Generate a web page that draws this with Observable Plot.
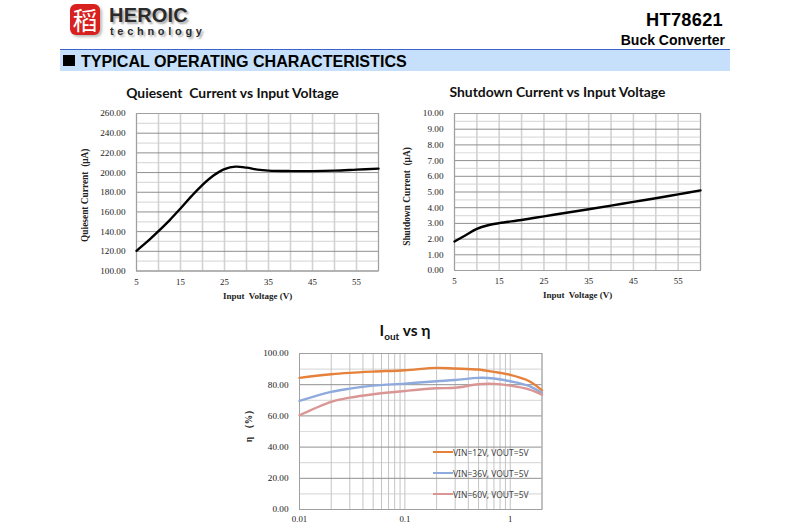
<!DOCTYPE html>
<html><head><meta charset="utf-8">
<script src="https://cdn.jsdelivr.net/npm/d3@7"></script>
<script src="https://cdn.jsdelivr.net/npm/@observablehq/plot@0.6"></script>
<style>
html,body{margin:0;padding:0;width:787px;height:531px;overflow:hidden;background:#fff}
.abs{position:absolute;white-space:nowrap}
.sans{font-family:"Liberation Sans",Arial,sans-serif;font-weight:700;color:#000}
.ttl{font-family:"Lato","Open Sans",sans-serif;font-weight:700;color:#111;text-align:center}
.leg{font-family:"Noto Sans",sans-serif;font-size:8.5px;color:#444}
.legl{height:2.4px}
svg{background:transparent;overflow:hidden}
</style></head><body>
<script>
// Quiescent current
const qV=[5,7.5,10,12.5,15,17.5,20,22.5,25,27.5,30,32.5,35,40,45,50,55,60];
const qI=[120.5,130,140.5,151.5,163.5,176,187.5,197,203.5,206,205,203,202,201.5,201.5,202,203,204];
// Shutdown current
const sV=[5,7.5,10,12.5,15,20,25,30,35,40,45,50,55,60];
const sI=[1.85,2.25,2.65,2.88,3.02,3.22,3.45,3.68,3.9,4.13,4.37,4.6,4.85,5.1];
// Efficiency
const iout=[0.01,0.02,0.03,0.05,0.1,0.2,0.3,0.5,0.7,1,1.5,2];
const eff12=[84.4,86.7,87.6,88.4,89.3,90.8,90.4,89.7,88.2,86.3,82.4,76.4];
const eff36=[69.6,75.4,77.5,79.4,80.7,82.2,83,84.4,84,82.2,79.2,74.7];
const eff60=[60.4,69,71.7,73.9,76,77.7,78,80.3,80.5,79.4,77,73.6];
const series=["VIN=12V, VOUT=5V","VIN=36V, VOUT=5V","VIN=60V, VOUT=5V"];
const colors=["#E5813A","#8FAADC","#D99694"];
// Ticks
const xGrid=[5,10,15,20,25,30,35,40,45,50,55,60];
const xLab=[5,15,25,35,45,55];
const qMajor=[100,120,140,160,180,200,220,240,260];
const qMinor=[110,130,150,170,190,210,230,250];
const sMajor=[0,1,2,3,4,5,6,7,8,9,10];
const sMinor=[.5,1.5,2.5,3.5,4.5,5.5,6.5,7.5,8.5,9.5];
const eMajor=[0,20,40,60,80,100];
const eMinor=[10,30,50,70,90];
const logGrid=[0.01,0.02,0.03,0.04,0.05,0.06,0.07,0.08,0.09,0.1,0.2,0.3,0.4,0.5,0.6,0.7,0.8,0.9,1,2];
const logLab=[0.01,0.1,1];

const serif='"Liberation Serif","Times New Roman",serif';
function add(el,left,top){el.style.position="absolute";el.style.left=left+"px";el.style.top=top+"px";document.body.appendChild(el);return el}
function html(cls,style,h){const d=document.createElement("div");d.className="abs "+cls;d.style.cssText=style;d.innerHTML=h;document.body.appendChild(d);return d}

function chart(o){
  const ml=70,mt=8,mr=10,mb=o.mb;
  const marks=[
    Plot.ruleY(o.minor,{stroke:"#dcdcdc",strokeWidth:1.2}),
    Plot.ruleX(o.xGrid,{stroke:o.vc||"#d2d2d2",strokeWidth:o.vw||1.6}),
    Plot.ruleY(o.major,{stroke:"#8f8f8f",strokeWidth:1}),
    Plot.frame({stroke:"#a0a0a0",strokeWidth:1}),
    ...o.lines,
    Plot.axisX({ticks:o.xLab,tickSize:0,tickPadding:o.xPad,tickFormat:o.xFmt,fontSize:8.8,fill:"#222",label:null}),
    Plot.axisY({ticks:o.major,tickSize:0,tickPadding:11,tickFormat:d=>d.toFixed(2),fontSize:9.2,fill:"#222",label:null}),
    Plot.text([o.yLabel],{text:d=>d,frameAnchor:"left",textAnchor:"middle",rotate:-90,dx:o.yDx,dy:o.yDy,fontWeight:"bold",fontSize:o.yFs||9.4,fill:"#222"}),
    Plot.text([o.xLabel],{text:d=>d,frameAnchor:"bottom",dy:o.xDy,fontWeight:"bold",fontSize:9,fill:"#222",lineAnchor:"middle"})
  ];
  const p=Plot.plot({
    width:ml+o.w+mr,height:mt+o.h+mb,marginLeft:ml,marginTop:mt,marginRight:mr,marginBottom:mb,
    style:{fontFamily:serif,background:"transparent",overflow:"hidden"},
    x:{type:o.xType||"linear",domain:o.xDomain,label:null},
    y:{domain:o.yDomain,label:null},
    marks
  });
  add(p,o.left-ml,o.top-mt);
}

/* Header */
html("", "left:70px;top:4px;width:30px;height:31px;background:#d8201f;border-radius:6px;color:#fff;font:400 25px/31px 'Noto Sans CJK SC';text-align:center;box-shadow:2px 2px 3px #bbb","稻");
html("sans","left:109px;top:4px;font-size:20px;color:#2b2b2b;text-shadow:2px 2px 2px #aaa;letter-spacing:.2px","HEROIC");
html("sans","left:110px;top:25px;font-size:11px;color:#2b2b2b;letter-spacing:3.7px;text-shadow:2px 2px 2px #aaa","technology");
html("sans","right:64px;top:10px;font-size:18.2px;letter-spacing:.3px","HT78621");
html("sans","right:62px;top:32px;font-size:14px","Buck Converter");
html("","left:60px;top:49px;width:670px;height:22px;background:#c6e0fb;border-top:1px solid #3b64c8;box-sizing:border-box","");
html("","left:63px;top:55px;width:12px;height:10.5px;background:#000","");
html("sans","left:81px;top:52px;font-size:16.1px;line-height:19px","TYPICAL OPERATING CHARACTERISTICS");
/* Titles */
html("ttl","left:125px;width:215px;top:84px;font-size:13.9px;line-height:18px","Quiesent&nbsp; Current vs Input Voltage");
html("ttl","left:449px;width:217px;top:83px;font-size:13.9px;line-height:18px","Shutdown Current vs Input Voltage");
html("ttl","left:370px;width:70px;top:320px;font-size:15.5px;line-height:20px",'I<sub style="font-size:10px;line-height:0">out</sub> vs η');

const q=qV.map((x,i)=>({x,y:qI[i]}));
chart({left:136,top:112.5,w:242,h:157.5,mb:40,xDomain:[5,60],yDomain:[100,260],xGrid,xLab,major:qMajor,minor:qMinor,xPad:8,
  lines:[Plot.line(q,{x:"x",y:"y",stroke:"#000",strokeWidth:2.4,curve:"catmull-rom"})],
  yLabel:"Quiesent Current  (μA)",yDx:-52,yDy:3,xLabel:"Input  Voltage (V)",xDy:25});

const s=sV.map((x,i)=>({x,y:sI[i]}));
chart({left:454,top:112.5,w:246,h:157,mb:40,xDomain:[5,60],yDomain:[0,10],xGrid,xLab,major:sMajor,minor:sMinor,xPad:7,
  lines:[Plot.line(s,{x:"x",y:"y",stroke:"#000",strokeWidth:2.4,curve:"catmull-rom"})],
  yLabel:"Shutdown Current  (μA)",yDx:-48,yDy:4.5,xLabel:"Input  Voltage (V)",xDy:24.5});

const rows=series.flatMap((k,j)=>iout.map((x,i)=>({x,y:[eff12,eff36,eff60][j][i],k})));
chart({left:299,top:352.5,w:242.5,h:156,mb:30,xType:"log",xDomain:[0.01,2],yDomain:[0,100],xGrid:logGrid,xLab:logLab,vw:1,vc:"#c4c4c4",major:eMajor,minor:eMinor,xPad:6,
  xFmt:d=>String(d),
  lines:series.map((k,j)=>Plot.line(rows.filter(r=>r.k===k),{x:"x",y:"y",stroke:colors[j],strokeWidth:2.4,curve:"catmull-rom"})),
  yLabel:"η （%）",yDx:-51,yDy:-8,yFs:9.5,xLabel:"Iout (A)",xDy:26});

/* Legend */
series.forEach((t,j)=>{
  const y=[452,473,494][j];
  html("legl",`left:433px;top:${y-1.2}px;width:19.5px;background:${colors[j]}`,"");
  html("leg",`left:453px;top:${y-6.5}px;line-height:13px`,t);
});
</script>
</body></html>
